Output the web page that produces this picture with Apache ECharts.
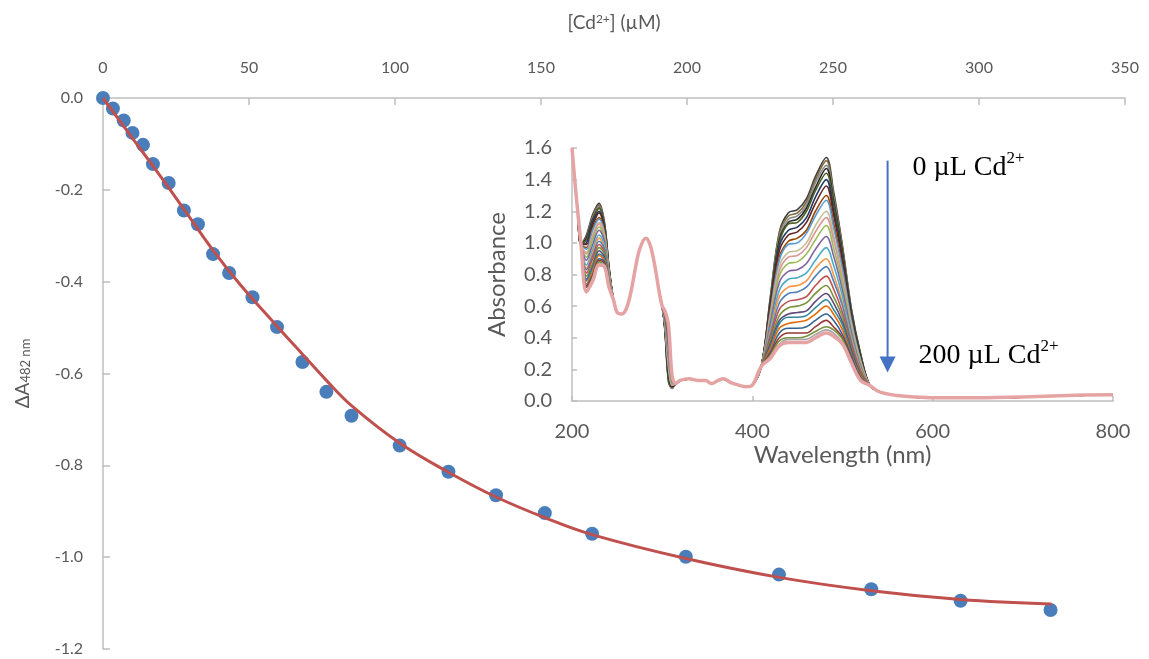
<!DOCTYPE html>
<html><head><meta charset="utf-8">
<script src="https://cdn.jsdelivr.net/npm/echarts@6/dist/echarts.min.js"></script>
<style>html,body{margin:0;padding:0;background:#fff}#c{width:1149px;height:659px}</style>
</head><body><div id="c"></div>
<script>
// ---- Main titration data: [Cd2+] (µM) vs ΔA482 nm ----
const concX = [0, 3.4, 7.1, 10.1, 13.7, 17.1, 22.5, 27.7, 32.5, 37.7, 43.2, 51.2, 59.6, 68.3, 76.5, 85.1, 101.6, 118.3, 134.6, 151.3, 167.5, 199.6, 231.5, 263.1, 293.7, 324.5];
const dA = [0, -0.023, -0.049, -0.076, -0.102, -0.144, -0.185, -0.245, -0.275, -0.340, -0.381, -0.434, -0.499, -0.575, -0.640, -0.692, -0.757, -0.814, -0.865, -0.904, -0.949, -0.999, -1.038, -1.070, -1.095, -1.115];
// ---- Fitted curve ----
const fitX = [0, 10, 17.1, 27.7, 37.7, 46.8, 59.6, 68.3, 76.5, 85.1, 101.7, 118.3, 134.6, 151.3, 167.5, 199.6, 231.5, 263.1, 293.7, 324.8];
const fitY = [0, -0.087, -0.148, -0.242, -0.332, -0.405, -0.497, -0.558, -0.615, -0.670, -0.752, -0.815, -0.869, -0.914, -0.951, -1.003, -1.044, -1.073, -1.092, -1.102];

// ---- Inset spectra: wavelengths where all traces coincide ----
const sharedWL  = [200, 203, 206, 210, 246, 250, 255, 260, 265, 270, 275, 282, 287, 292, 297, 300, 315, 320, 330, 340, 348, 355, 362, 368, 375, 385, 393, 400, 410, 530, 540, 550, 560, 580, 600, 650, 700, 750, 800];
const sharedAbs = [1.60, 1.40, 1.22, 0.99, 0.64, 0.56, 0.55, 0.58, 0.68, 0.83, 0.96, 1.03, 0.98, 0.85, 0.68, 0.60, 0.11, 0.13, 0.14, 0.13, 0.13, 0.11, 0.13, 0.14, 0.12, 0.10, 0.09, 0.10, 0.22, 0.10, 0.06, 0.045, 0.035, 0.025, 0.02, 0.02, 0.025, 0.035, 0.04];
// ---- Absorbance of each trace (0 µL ... 200 µL Cd2+) at wavelengths where they differ ----
const A216 = [1.05,1.04,1.03,1.03,1.02,1.00,0.99,0.97,0.96,0.94,0.93,0.91,0.89,0.86,0.84,0.83,0.81,0.79,0.77,0.76,0.74,0.73,0.72,0.70,0.70,0.69];
const A223 = [1.18,1.17,1.16,1.15,1.14,1.13,1.11,1.09,1.08,1.05,1.04,1.02,0.99,0.96,0.94,0.92,0.90,0.87,0.85,0.84,0.82,0.80,0.79,0.78,0.77,0.76];
const A230 = [1.25,1.24,1.23,1.22,1.22,1.20,1.19,1.16,1.15,1.13,1.12,1.10,1.08,1.05,1.03,1.01,0.99,0.97,0.95,0.93,0.92,0.90,0.89,0.88,0.87,0.86];
const A236 = [1.13,1.12,1.12,1.11,1.11,1.09,1.08,1.07,1.06,1.05,1.03,1.02,1.01,0.99,0.97,0.96,0.94,0.93,0.91,0.90,0.89,0.88,0.87,0.86,0.86,0.85];
const A241 = [0.85,0.85,0.84,0.84,0.84,0.83,0.83,0.82,0.82,0.81,0.81,0.80,0.79,0.78,0.78,0.77,0.76,0.76,0.75,0.75,0.74,0.73,0.73,0.73,0.72,0.72];
const A303 = [0.45,0.45,0.46,0.46,0.46,0.47,0.47,0.48,0.48,0.49,0.49,0.50,0.50,0.51,0.52,0.53,0.53,0.54,0.54,0.55,0.55,0.56,0.56,0.57,0.57,0.57];
const A307 = [0.12,0.13,0.14,0.14,0.15,0.17,0.18,0.20,0.21,0.23,0.24,0.26,0.28,0.31,0.33,0.34,0.36,0.38,0.40,0.41,0.43,0.44,0.46,0.47,0.47,0.48];
const A311 = [0.08,0.08,0.08,0.09,0.09,0.09,0.09,0.10,0.10,0.10,0.11,0.11,0.12,0.12,0.13,0.13,0.13,0.14,0.14,0.15,0.15,0.15,0.15,0.16,0.16,0.16];
const A420 = [0.66,0.65,0.64,0.63,0.63,0.61,0.60,0.57,0.56,0.54,0.53,0.51,0.49,0.46,0.44,0.42,0.40,0.38,0.36,0.34,0.33,0.31,0.30,0.29,0.28,0.27];
const A430 = [1.07,1.06,1.04,1.02,1.00,0.98,0.95,0.91,0.89,0.85,0.82,0.79,0.75,0.70,0.66,0.62,0.58,0.54,0.51,0.49,0.46,0.43,0.40,0.38,0.36,0.35];
const A440 = [1.19,1.17,1.15,1.13,1.12,1.08,1.05,1.01,0.99,0.94,0.91,0.87,0.82,0.77,0.72,0.68,0.63,0.59,0.55,0.53,0.49,0.46,0.43,0.40,0.39,0.37];
const A450 = [1.21,1.19,1.17,1.15,1.13,1.10,1.07,1.03,1.00,0.95,0.92,0.88,0.83,0.78,0.73,0.69,0.64,0.60,0.56,0.53,0.50,0.46,0.43,0.40,0.39,0.37];
const A460 = [1.28,1.26,1.24,1.22,1.20,1.16,1.13,1.08,1.06,1.00,0.97,0.93,0.87,0.81,0.76,0.72,0.66,0.62,0.57,0.54,0.51,0.47,0.43,0.41,0.39,0.37];
const A470 = [1.42,1.40,1.38,1.35,1.33,1.29,1.25,1.20,1.17,1.11,1.07,1.02,0.96,0.89,0.84,0.79,0.73,0.68,0.63,0.59,0.55,0.51,0.47,0.44,0.42,0.40];
const A482 = [1.54,1.52,1.49,1.47,1.44,1.40,1.36,1.30,1.27,1.20,1.16,1.11,1.04,0.97,0.90,0.85,0.79,0.73,0.68,0.64,0.60,0.55,0.51,0.47,0.45,0.43];
const A490 = [1.33,1.31,1.29,1.27,1.25,1.21,1.18,1.13,1.10,1.05,1.02,0.97,0.92,0.86,0.80,0.76,0.71,0.66,0.62,0.58,0.55,0.51,0.47,0.45,0.43,0.41];
const A500 = [0.98,0.97,0.95,0.94,0.92,0.90,0.88,0.84,0.83,0.79,0.77,0.74,0.70,0.66,0.62,0.60,0.56,0.53,0.50,0.48,0.45,0.42,0.40,0.39,0.37,0.36];
const A510 = [0.58,0.57,0.57,0.56,0.55,0.54,0.52,0.51,0.50,0.48,0.46,0.45,0.43,0.41,0.39,0.37,0.35,0.33,0.32,0.30,0.29,0.28,0.26,0.25,0.25,0.24];
const A520 = [0.30,0.30,0.29,0.29,0.29,0.28,0.27,0.26,0.26,0.25,0.24,0.23,0.22,0.21,0.20,0.19,0.19,0.18,0.17,0.16,0.16,0.15,0.14,0.14,0.13,0.13];
const varyingWL  = [216, 223, 230, 236, 241, 303, 307, 311, 420, 430, 440, 450, 460, 470, 482, 490, 500, 510, 520];
const varyingAbs = [A216, A223, A230, A236, A241, A303, A307, A311, A420, A430, A440, A450, A460, A470, A482, A490, A500, A510, A520];

const traceColors = ['#3F3F3F','#7F6A3C','#8C8C8C','#262626','#4F6228','#1F3864','#632523','#974806','#5B9BD5','#C4BD97',
  '#D99694','#9BBB59','#8064A2','#4BACC6','#F79646','#4F81BD','#C0504D','#77933C','#604A7B','#31859C',
  '#E46C0A','#376092','#953735','#76923C','#A6A6A6','#E6A3A3'];

function traceData(i) {
  const pts = sharedWL.map((w, k) => [w, sharedAbs[k]]);
  varyingWL.forEach((w, k) => pts.push([w, varyingAbs[k][i]]));
  pts.sort((a, b) => a[0] - b[0]);
  return pts;
}

const FONT = 'Lato';
const GRAY_AX = '#BFBFBF';
const LABEL = '#595959';

const chart = echarts.init(document.getElementById('c'), null, { renderer: 'canvas' });

const spectra = traceColors.map((col, i) => ({
  type: 'line', xAxisIndex: 1, yAxisIndex: 1,
  data: traceData(i), smooth: 0.35, showSymbol: false, silent: true,
  lineStyle: { color: col, width: i === traceColors.length - 1 ? 3.5 : 1.6 },
  itemStyle: { color: col }, z: 2 + i * 0.01
}));

chart.setOption({
  animation: false,
  backgroundColor: '#fff',
  grid: [
    { left: 103, top: 98, width: 1022, height: 551 },
    { left: 572, top: 148, width: 541, height: 253 }
  ],
  xAxis: [
    {
      gridIndex: 0, type: 'value', position: 'top', min: 0, max: 350, interval: 50,
      axisLine: { lineStyle: { color: GRAY_AX, width: 1.5 } },
      axisTick: { inside: true, length: 7, lineStyle: { color: GRAY_AX, width: 1.5 } },
      splitLine: { show: false },
      axisLabel: { color: LABEL, fontSize: 16, fontFamily: FONT, margin: 22 },
      name: '{a|[Cd}{s|2+}{a|] (µM)}', nameLocation: 'middle', nameGap: 66,
      nameTextStyle: { color: LABEL, fontFamily: FONT, rich: {
        a: { fontSize: 19, fontFamily: FONT, color: LABEL, verticalAlign: 'bottom' },
        s: { fontSize: 12, fontFamily: FONT, color: LABEL, verticalAlign: 'top' } } }
    },
    {
      gridIndex: 1, type: 'value', position: 'bottom', min: 200, max: 800, interval: 200,
      axisLine: { lineStyle: { color: GRAY_AX, width: 1.5 } },
      axisTick: { inside: true, length: 5, lineStyle: { color: GRAY_AX, width: 1.5 } },
      splitLine: { show: false },
      axisLabel: { color: LABEL, fontSize: 20, fontFamily: FONT, margin: 21 },
      name: 'Wavelength (nm)', nameLocation: 'middle', nameGap: 42,
      nameTextStyle: { color: LABEL, fontSize: 24, fontFamily: FONT }
    }
  ],
  yAxis: [
    {
      gridIndex: 0, type: 'value', min: -1.2, max: 0, interval: 0.2,
      axisLine: { show: true, lineStyle: { color: GRAY_AX, width: 1.5 } },
      axisTick: { show: true, inside: true, length: 7, lineStyle: { color: GRAY_AX, width: 1.5 } },
      splitLine: { show: false },
      axisLabel: { color: LABEL, fontSize: 16, fontFamily: FONT, margin: 20, formatter: v => v.toFixed(1) },
      name: '{a|ΔA}{s|482 nm}', nameLocation: 'middle', nameGap: 71,
      nameTextStyle: { color: LABEL, fontFamily: FONT, rich: {
        a: { fontSize: 19, fontFamily: FONT, color: LABEL, verticalAlign: 'bottom' },
        s: { fontSize: 13, fontFamily: FONT, color: LABEL, verticalAlign: 'bottom' } } }
    },
    {
      gridIndex: 1, type: 'value', min: 0, max: 1.6, interval: 0.2,
      axisLine: { show: true, lineStyle: { color: GRAY_AX, width: 1.5 } },
      axisTick: { show: true, inside: true, length: 5, lineStyle: { color: GRAY_AX, width: 1.5 } },
      splitLine: { show: false },
      axisLabel: { color: LABEL, fontSize: 20, fontFamily: FONT, margin: 20, formatter: v => v.toFixed(1) },
      name: 'Absorbance', nameLocation: 'middle', nameGap: 63,
      nameTextStyle: { color: LABEL, fontSize: 24, fontFamily: FONT }
    }
  ],
  series: [
    {
      type: 'scatter', xAxisIndex: 0, yAxisIndex: 0,
      data: concX.map((x, i) => [x, dA[i]]),
      symbol: 'circle', symbolSize: 14, itemStyle: { color: '#4A7EBB', opacity: 1 }, z: 3
    },
    {
      type: 'line', xAxisIndex: 0, yAxisIndex: 0,
      data: fitX.map((x, i) => [x, fitY[i]]),
      smooth: 0.4, showSymbol: false, lineStyle: { color: '#C0504D', width: 3 }, z: 4
    }
  ].concat(spectra)
});

// Arrow and labels anchored to the inset's coordinate system
const pTop = chart.convertToPixel({ gridIndex: 1 }, [550, 1.52]);
const pBot = chart.convertToPixel({ gridIndex: 1 }, [550, 0.18]);
const serif = 'Liberation Serif';
const richLbl = {
  n: { fontSize: 28, fontFamily: serif, fill: '#000', color: '#000', verticalAlign: 'bottom', lineHeight: 32 },
  s: { fontSize: 17, fontFamily: serif, fill: '#000', color: '#000', verticalAlign: 'top', lineHeight: 32 }
};
chart.setOption({
  graphic: [
    { type: 'line', shape: { x1: pTop[0], y1: pTop[1], x2: pBot[0], y2: pBot[1] - 14 },
      style: { stroke: '#4472C4', lineWidth: 2 }, z: 100 },
    { type: 'polygon', shape: { points: [[pBot[0] - 8, pBot[1] - 16], [pBot[0] + 8, pBot[1] - 16], [pBot[0], pBot[1]]] },
      style: { fill: '#4472C4' }, z: 100 },
    { type: 'text', x: pTop[0] + 25, y: pTop[1] - 11, z: 100,
      style: { text: '{n|0 µL Cd}{s|2+}', rich: richLbl, verticalAlign: 'top' } },
    { type: 'text', x: pTop[0] + 31, y: pBot[1] - 35, z: 100,
      style: { text: '{n|200 µL Cd}{s|2+}', rich: richLbl, verticalAlign: 'top' } }
  ]
});
</script>
</body></html>
